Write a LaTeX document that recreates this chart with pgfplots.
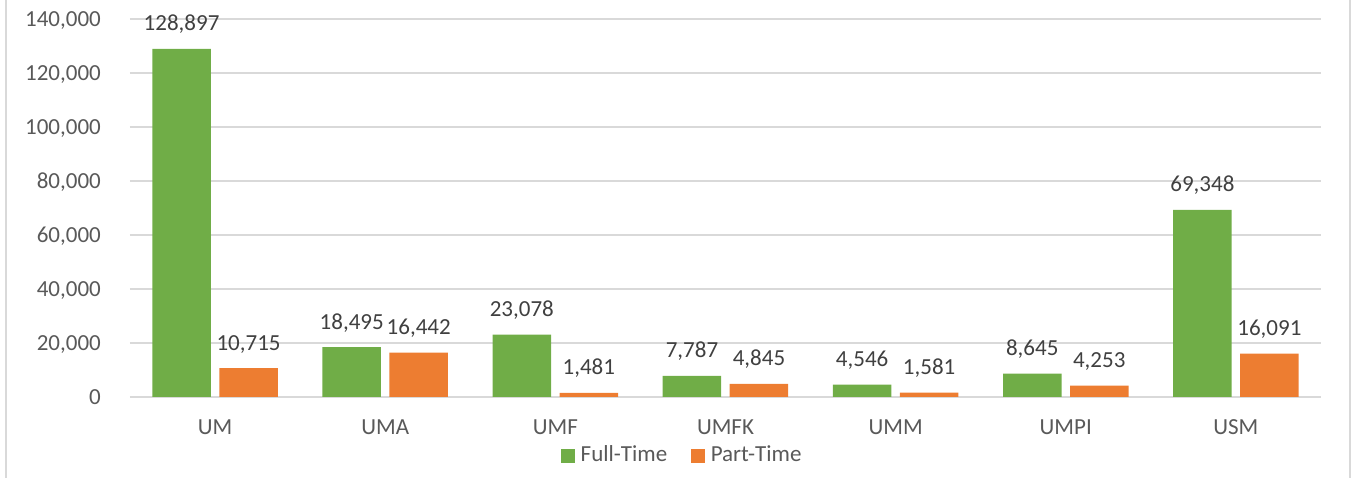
\documentclass[border=0pt]{standalone}
\usepackage{fontspec}
\setmainfont{Carlito}
\usepackage{pgfplots}
\pgfplotsset{compat=1.18}
\definecolor{grn}{HTML}{70AD47}
\definecolor{org}{HTML}{ED7D31}
\definecolor{gridc}{HTML}{D9D9D9}
\definecolor{txt}{HTML}{595959}
\definecolor{lbl}{HTML}{404040}
\pgfkeys{/pgf/number format/.cd, fixed, precision=0, 1000 sep={,}, assume math mode=true}
\newcommand{\bigf}{\fontsize{23}{28}\selectfont}
\begin{document}
\begin{tikzpicture}[x=1pt,y=1pt]
\path[use as bounding box] (0,0) rectangle (1351,478);
\draw[color=gridc, line width=1.3pt] (6,0) -- (6,478);
\draw[color=gridc, line width=1.3pt] (1350,0) -- (1350,478);
\begin{axis}[
  at={(130pt,81pt)}, anchor=south west,
  scale only axis, width=1191pt, height=378pt,
  ymin=0, ymax=140000, xmin=-0.5, xmax=6.5,
  ybar, bar width=58.5pt,
  axis line style={draw=none},
  tick style={draw=none},
  ymajorgrids, grid style={color=gridc, line width=1.3pt},
  ytick={0,20000,...,140000},
  scaled y ticks=false,
  xtick={0,...,6},
  xticklabels={UM,UMA,UMF,UMFK,UMM,UMPI,USM},
  yticklabel style={anchor=base east, inner sep=0pt, xshift=-29pt, yshift=-7.3pt, text=txt, font=\bigf},
  xticklabel style={anchor=north, inner sep=0pt, yshift=-18.5pt, text=txt, font=\bigf},
  nodes near coords,
  every node near coord/.append style={anchor=base, inner sep=0pt, yshift=18pt, text=lbl, font=\bigf},
  legend columns=-1,
  legend style={at={(0.3619,-0.1516)}, anchor=west, draw=none, fill=none, inner sep=0pt,
    nodes={inner sep=0pt, text=txt, font=\bigf},
    /tikz/every odd column/.append style={column sep=6pt},
    /tikz/every even column/.append style={column sep=24pt}},
]
\addplot[fill=grn, draw=none, bar shift=-33.5pt,
  legend image code/.code={\fill[grn] (0pt,-8.5pt) rectangle (13.5pt,5pt);}]
  coordinates {(0,128897) (1,18495) (2,23078) (3,7787) (4,4546) (5,8645) (6,69348)};
\addplot[fill=org, draw=none, bar shift=33.5pt,
  legend image code/.code={\fill[org] (0pt,-8.5pt) rectangle (13.5pt,5pt);}]
  coordinates {(0,10715) (1,16442) (2,1481) (3,4845) (4,1581) (5,4253) (6,16091)};
\legend{Full-Time,Part-Time}
\end{axis}
\end{tikzpicture}
\end{document}
